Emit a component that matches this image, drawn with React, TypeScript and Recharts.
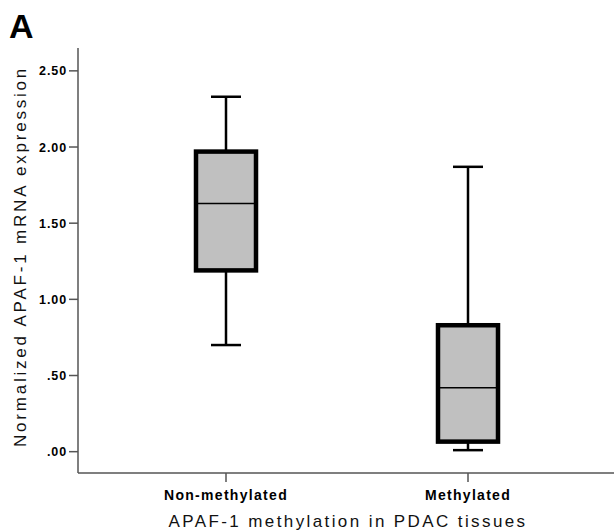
import { Bar, ComposedChart, Label, XAxis, YAxis } from "recharts";

const groups = ["Non-methylated", "Methylated"];
const mins = [0.7, 0.01];
const q1s = [1.19, 0.066];
const medians = [1.63, 0.42];
const q3s = [1.97, 0.83];
const maxs = [2.33, 1.87];
const yTicks = [0, 0.5, 1, 1.5, 2, 2.5];

const data = groups.map((g, i) => ({
  group: g,
  min: mins[i],
  q1: q1s[i],
  median: medians[i],
  q3: q3s[i],
  max: maxs[i],
  range: [mins[i], maxs[i]],
}));

const font = "'Liberation Sans', Arial, sans-serif";

function BoxShape(props: any) {
  const { x, y, width, height, payload } = props;
  if (!payload) return null;
  const top = Math.min(y, y + height);
  const bottom = Math.max(y, y + height);
  const ppu = (bottom - top) / (payload.max - payload.min);
  const py = (v: number) => bottom - (v - payload.min) * ppu;
  const cx = x + width / 2;
  const cap = 15;
  return (
    <g>
      <line x1={cx} x2={cx} y1={py(payload.max)} y2={py(payload.q3)} stroke="#000" strokeWidth={2.5} />
      <line x1={cx} x2={cx} y1={py(payload.q1)} y2={py(payload.min)} stroke="#000" strokeWidth={2.5} />
      <line x1={cx - cap} x2={cx + cap} y1={py(payload.max)} y2={py(payload.max)} stroke="#000" strokeWidth={2.5} />
      <line x1={cx - cap} x2={cx + cap} y1={py(payload.min)} y2={py(payload.min)} stroke="#000" strokeWidth={2.5} />
      <rect x={x + 2} width={width - 4} y={py(payload.q3)} height={py(payload.q1) - py(payload.q3)} fill="#c0c0c0" stroke="#000" strokeWidth={4.5} />
      <line x1={x + 2} x2={x + width - 2} y1={py(payload.median)} y2={py(payload.median)} stroke="#000" strokeWidth={1.5} />
    </g>
  );
}

const fmtY = (v: number) => v.toFixed(2).replace(/^0/, "");

function XTick(props: any) {
  const { x, y, payload } = props;
  return (
    <text x={x} y={y + 16} textAnchor="middle" fontFamily={font} fontWeight="bold" fontSize={14} letterSpacing={1.3} fill="#000">
      {payload.value}
    </text>
  );
}

function YTick(props: any) {
  const { x, y, payload } = props;
  return (
    <text x={x} y={y + 4.5} textAnchor="end" fontFamily={font} fontWeight="bold" fontSize={12.5} letterSpacing={0.9} fill="#000">
      {fmtY(payload.value)}
    </text>
  );
}

export default function App() {
  return (
    <div style={{ position: "fixed", left: 0, top: 0, width: 614, height: 532, overflow: "hidden", background: "#fff" }}>
      <div style={{ position: "absolute", left: 9, top: 9, fontFamily: font, fontWeight: "bold", fontSize: 34, lineHeight: "34px", color: "#000" }}>
        A
      </div>
      <ComposedChart width={625} height={532} data={data} margin={{ top: 48, right: 9, left: 0, bottom: 29 }}>
        <XAxis xAxisId="top" orientation="top" dataKey="group" height={0} tick={false} tickLine={false} axisLine={{ stroke: "#555", strokeWidth: 1.5 }} />
        <XAxis
          dataKey="group"
          height={30}
          padding={{ left: 27, right: 27 }}
          tick={<XTick />}
          tickLine={{ stroke: "#555", strokeWidth: 1.5 }}
          tickSize={9}
          axisLine={{ stroke: "#555", strokeWidth: 1.5 }}
        >
          <Label
            position="bottom"
            content={(p: any) => {
              const vb = p.viewBox;
              return (
                <text x={vb.x + vb.width / 2 + 1} y={vb.y + vb.height + 24} textAnchor="middle" fontFamily={font} fontSize={17} letterSpacing={2.4} fill="#111">
                  APAF-1 methylation in PDAC tissues
                </text>
              );
            }}
          />
        </XAxis>
        <YAxis
          width={78}
          domain={[-0.14, 2.65]}
          ticks={yTicks}
          type="number"
          allowDataOverflow
          tick={<YTick />}
          tickLine={{ stroke: "#555", strokeWidth: 1.5 }}
          tickSize={9}
          tickMargin={2}
          axisLine={{ stroke: "#555", strokeWidth: 1.5 }}
        >
          <Label
            position="insideLeft"
            content={(p: any) => {
              const vb = p.viewBox;
              const cy = vb.y + vb.height / 2 - 4;
              return (
                <text x={26} y={cy} transform={`rotate(-90 26 ${cy})`} textAnchor="middle" fontFamily={font} fontSize={17} letterSpacing={2.8} fill="#111">
                  Normalized APAF-1 mRNA expression
                </text>
              );
            }}
          />
        </YAxis>
        <Bar dataKey="range" barSize={64} shape={<BoxShape />} isAnimationActive={false} />
      </ComposedChart>
    </div>
  );
}
